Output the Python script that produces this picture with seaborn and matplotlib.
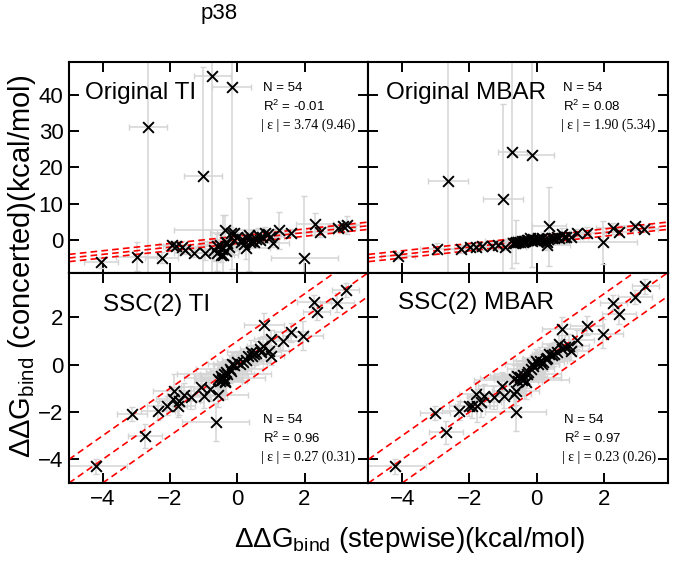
import numpy as np
import matplotlib
matplotlib.use("Agg")
import matplotlib.pyplot as plt
import seaborn as sns

# ------------------------------------------------------------------
# Datos (kcal/mol)
# ------------------------------------------------------------------
# Original TI
ti_orig_x = [-0.75, -0.17, -2.65, -1.01, -4.04, -2.99, -2.25, -1.93, -1.81, -1.64,
             -1.55, -1.29, -0.95, -0.69, -0.59, -0.49, -0.41, -0.34, -0.52, -0.37,
             -0.20, -0.10, -0.34, 0.10, 0.27, 0.34, 0.49, 0.61, 0.69, 0.81,
             0.98, 1.05, 1.23, 1.59, 1.99, 2.30, 2.45, 2.99, 3.14, 3.25,
             0.29, 0.39, -0.10, -0.45, -0.30, 0.00, 0.20, 0.55, -0.60, 0.15,
             0.75, -0.25, 0.45, 0.90]
ti_orig_y = [45.2, 42.1, 31.2, 17.6, -6.2, -4.6, -4.9, -1.4, -1.7, -1.9,
             -2.8, -3.5, -3.5, -2.8, -3.5, -4.2, -4.2, -3.2, -1.4, 2.8,
             2.0, 1.9, -0.5, -0.5, -2.3, 1.4, -0.5, 1.4, 0.0, 2.0,
             0.9, -0.9, 2.6, 2.0, -4.9, 4.4, 2.3, 3.2, 3.7, 4.0,
             0.5, -0.7, 0.0, -2.5, -1.0, 0.8, -1.2, 0.3, -1.8, 0.2,
             0.8, -2.0, -0.2, 1.5]
ti_orig_xerr = [0.55, 0.57, 0.56, 0.56, 0.5, 0.6, 0.5, 0.4, 0.4, 0.5,
                0.5, 0.6, 0.8, 0.5, 0.4, 0.5, 0.3, 0.4, 0.6, 1.5,
                0.6, 0.5, 0.8, 0.6, 0.7, 0.5, 0.6, 0.5, 0.5, 0.6,
                0.4, 0.5, 0.5, 0.6, 1.0, 0.56, 0.4, 0.5, 0.4, 0.4,
                0.5, 0.6, 0.7, 0.5, 0.6, 0.5, 0.4, 0.5, 0.6, 0.4,
                0.5, 0.6, 0.5, 0.4]
ti_orig_yerr = [55, 50, 42, 30, 1.5, 4, 1.5, 1.0, 1.2, 1.5,
                1.0, 1.2, 2, 3, 5, 2, 11, 2, 1.5, 4,
                1.5, 1, 1, 1, 3, 10, 1.5, 2, 1, 1.5,
                1, 1, 5, 1, 17, 3, 1.5, 1, 1.5, 2.5,
                1, 1.5, 1, 1.2, 1.0, 1.5, 1.2, 1.0, 1.5, 1.0,
                1.2, 1.5, 1.0, 1.2]

# Original MBAR
mbar_orig_x = [-0.72, -0.15, -2.64, -1.01, -4.13, -2.97, -2.26, -1.97, -1.80, -1.62,
               -1.33, -0.93, -0.71, -0.61, -0.49, -0.39, -0.29, -0.20, -0.05, 0.08,
               0.30, 0.30, 0.37, 0.44, 0.59, 0.74, 0.87, 1.03, 1.21, 1.49,
               1.97, 2.26, 2.46, 2.93, 3.20, -0.55, -0.45, -0.35, -0.25, -0.10,
               0.00, 0.10, 0.15, 0.22, 0.35, 0.50, 0.65, -0.65, -0.40, -0.15,
               0.05, 0.28, 0.80, -1.15]
mbar_orig_y = [24.3, 23.4, 16.2, 11.3, -4.4, -2.5, -2.5, -2.0, -1.9, -1.7,
               -1.6, -1.9, -0.9, -0.5, -0.7, -0.3, 0.0, 0.5, 0.0, 0.2,
               -0.7, -1.4, 3.7, 0.5, 0.9, 1.7, 0.7, 0.9, 1.9, 2.0,
               -0.7, 3.2, 2.3, 3.7, 3.1, -0.6, -0.4, -0.2, 0.1, 0.3,
               0.1, -0.1, 0.4, 0.1, 0.2, 0.4, 0.6, -0.8, -0.6, -0.3,
               0.5, -0.3, 0.9, -1.4]
mbar_orig_xerr = [0.44, 0.67, 0.6, 0.6, 0.5, 0.5, 0.5, 0.4, 0.4, 0.5,
                  0.5, 0.6, 0.5, 0.5, 0.6, 0.5, 0.6, 0.5, 0.6, 0.5,
                  0.6, 0.7, 0.5, 0.5, 0.5, 0.6, 0.5, 0.5, 0.4, 0.5,
                  1.0, 0.5, 0.4, 0.5, 0.4, 0.5, 0.5, 1.2, 0.6, 0.5,
                  0.5, 0.6, 0.5, 0.4, 0.5, 0.5, 0.5, 0.6, 0.5, 0.5,
                  0.4, 0.5, 0.5, 0.5]
mbar_orig_yerr = [32, 31, 33, 26, 1.0, 1.5, 1.0, 0.8, 0.8, 1.0,
                  1.0, 1.0, 1.0, 6, 1.5, 1.0, 1.0, 1.0, 1.0, 1.0,
                  1.5, 1.5, 11, 1.0, 1.0, 1.5, 1.0, 1.0, 1.0, 1.5,
                  6, 1.5, 1.0, 1.0, 1.0, 1.0, 1.0, 1.0, 1.0, 1.0,
                  1.0, 1.0, 1.0, 1.0, 1.0, 1.0, 1.0, 1.0, 1.0, 1.0,
                  1.0, 1.0, 1.0, 1.0]

# SSC(2) TI
ti_ssc_x = [3.23, 2.28, 2.36, 2.96, 1.96, 1.60, 1.36, 0.80, 1.00, 0.93,
            1.00, 0.78, 0.68, 0.51, 0.41, 0.33, 0.18, 0.08, -0.17, -0.22,
            -0.32, -0.39, -0.49, -0.44, -0.37, -0.57, -0.57, -0.82, -1.07, -1.00,
            -0.64, -1.37, -1.59, -1.72, -1.77, -1.89, -1.92, -2.09, -2.35, -3.13,
            -2.75, -4.19, -0.30, -0.45, -0.35, 0.00, 0.25, 0.55, -0.20, -0.50,
            0.45, 0.70, -0.40, -0.10]
ti_ssc_y = [3.17, 2.66, 2.21, 2.63, 1.23, 1.37, 1.01, 1.68, 1.08, 0.59,
            0.38, 0.80, 0.66, 0.45, 0.55, 0.38, 0.10, 0.03, 0.03, -0.18,
            -0.32, -0.54, -0.46, -0.65, -0.75, -0.60, -1.28, -1.03, -0.96, -1.31,
            -2.41, -1.38, -1.28, -1.52, -1.73, -1.10, -1.45, -1.73, -1.94, -2.08,
            -3.00, -4.30, -0.40, -0.55, -0.70, 0.10, 0.20, 0.50, -0.25, -0.70,
            0.35, 0.55, -0.40, 0.00]
ti_ssc_xerr = [0.4, 0.5, 0.4, 0.5, 0.6, 0.5, 0.5, 0.6, 0.5, 0.6,
               0.4, 0.5, 0.6, 0.5, 0.7, 0.5, 0.6, 0.8, 0.7, 1.0,
               0.6, 1.2, 0.8, 0.6, 0.5, 0.7, 0.9, 0.5, 0.6, 0.7,
               1.0, 0.6, 0.5, 0.6, 0.5, 0.6, 0.5, 0.6, 0.5, 0.45,
               0.5, 0.9, 0.8, 0.6, 0.5, 0.6, 0.7, 0.5, 0.6, 0.8,
               0.5, 0.6, 1.4, 0.6]
ti_ssc_yerr = [0.3, 0.3, 0.3, 0.4, 0.6, 0.4, 0.4, 0.5, 0.4, 0.5,
               0.4, 0.4, 0.5, 0.4, 0.5, 0.4, 0.5, 0.4, 0.5, 0.6,
               0.5, 0.6, 0.5, 0.6, 0.7, 0.6, 0.5, 0.5, 0.6, 0.5,
               0.8, 0.5, 0.5, 0.6, 0.5, 0.7, 0.5, 0.4, 0.4, 0.3,
               0.5, 0.3, 0.5, 0.6, 0.5, 0.5, 0.4, 0.5, 0.5, 0.6,
               0.5, 0.4, 0.5, 0.5]

# SSC(2) MBAR
mbar_ssc_x = [3.23, 2.93, 2.27, 2.45, 1.96, 1.49, 1.21, 0.76, 1.01, 0.96,
              0.76, 0.67, 0.52, 0.37, 0.27, 0.15, -0.03, -0.15, -0.18, -0.28,
              -0.38, -0.48, -0.58, -0.68, -0.33, -0.63, -0.63, -0.68, -0.97, -1.04,
              -1.27, -1.57, -1.67, -1.80, -1.77, -1.92, -2.00, -2.31, -3.03, -2.69,
              -4.20, -0.50, -0.40, -0.25, 0.05, 0.30, 0.45, -0.55, 0.10, -0.10,
              0.60, -0.45, 0.20, 0.85]
mbar_ssc_y = [3.31, 2.87, 2.63, 2.14, 1.32, 1.65, 1.06, 1.51, 0.59, 0.80,
              0.66, 0.87, 0.45, 0.45, 0.24, 0.03, 0.17, 0.03, -0.18, -0.39,
              -0.61, -0.54, -0.46, -0.61, -0.75, -1.10, -2.01, -1.24, -1.31, -0.89,
              -1.38, -1.31, -1.59, -1.24, -1.73, -1.76, -1.76, -1.94, -2.04, -2.86,
              -4.30, -0.50, -0.45, -0.30, 0.05, 0.30, 0.40, -0.70, 0.15, -0.05,
              0.55, -0.65, 0.12, 0.75]
mbar_ssc_xerr = [0.4, 0.5, 0.4, 0.5, 0.6, 0.5, 0.5, 0.6, 0.5, 0.6,
                 0.4, 0.5, 0.6, 0.5, 0.7, 0.5, 0.6, 0.8, 0.7, 1.0,
                 0.6, 1.2, 0.8, 0.6, 0.5, 0.7, 0.9, 0.5, 0.6, 0.7,
                 0.6, 0.5, 0.6, 0.5, 0.6, 0.5, 0.6, 0.5, 0.45, 0.5,
                 0.9, 0.8, 0.6, 0.5, 0.6, 0.7, 0.5, 0.6, 0.8, 0.5,
                 0.6, 1.4, 0.6, 0.5]
mbar_ssc_yerr = [0.3, 0.3, 0.3, 0.4, 0.6, 0.4, 0.4, 0.5, 0.4, 0.5,
                 0.4, 0.4, 0.5, 0.4, 0.5, 0.4, 0.5, 0.4, 0.5, 0.6,
                 0.5, 0.6, 0.5, 0.6, 0.7, 0.6, 0.8, 0.5, 0.5, 0.6,
                 0.5, 0.5, 0.6, 0.5, 0.7, 0.5, 0.4, 0.4, 0.3, 0.5,
                 0.3, 0.5, 0.6, 0.5, 0.5, 0.4, 0.5, 0.5, 0.6, 0.5,
                 0.4, 0.5, 0.5, 0.5]

panel_names = ["Original TI", "Original MBAR", "SSC(2) TI", "SSC(2) MBAR"]
stat_n = [54, 54, 54, 54]
stat_r2 = ["-0.01", "0.08", "0.96", "0.97"]
stat_err = ["3.74 (9.46)", "1.90 (5.34)", "0.27 (0.31)", "0.23 (0.26)"]

top_yticks = [0, 10, 20, 30, 40]
bottom_yticks = [-4, -2, 0, 2]
xticks = [-4, -2, 0, 2]
line_offsets = [-1, 0, 1]

# ------------------------------------------------------------------
# Figura
# ------------------------------------------------------------------
sns.set_theme(style="ticks")
plt.rcParams["font.family"] = ["Liberation Sans", "DejaVu Sans"]
plt.rcParams["mathtext.fontset"] = "custom"
plt.rcParams["mathtext.rm"] = "Liberation Sans"
plt.rcParams["mathtext.it"] = "Liberation Sans:italic"
plt.rcParams["axes.linewidth"] = 1.5
for clave in ["text.color", "axes.labelcolor", "axes.edgecolor",
              "xtick.color", "ytick.color"]:
    plt.rcParams[clave] = "black"

fig, axes = plt.subplots(2, 2, figsize=(6.74, 5.64), dpi=100)
fig.subplots_adjust(left=0.1024, right=0.991, top=0.89, bottom=0.1436,
                    wspace=0, hspace=0)

datos = [
    (ti_orig_x, ti_orig_y, ti_orig_xerr, ti_orig_yerr),
    (mbar_orig_x, mbar_orig_y, mbar_orig_xerr, mbar_orig_yerr),
    (ti_ssc_x, ti_ssc_y, ti_ssc_xerr, ti_ssc_yerr),
    (mbar_ssc_x, mbar_ssc_y, mbar_ssc_xerr, mbar_ssc_yerr),
]

label_pos = [(0.053, 0.853), (0.060, 0.853), (0.113, 0.848), (0.097, 0.857)]
stats_pos = [(0.647, [0.877, 0.791, 0.701]), (0.649, [0.877, 0.791, 0.701]),
             (0.647, [0.300, 0.214, 0.124]), (0.652, [0.300, 0.214, 0.124])]

for i, ax in enumerate(axes.flat):
    x, y, xe, ye = datos[i]
    ax.errorbar(x, y, xerr=xe, yerr=ye, fmt="none", ecolor="#d4d4d4",
                elinewidth=1.1, capsize=2.5, capthick=1.0, zorder=1)
    for off in line_offsets:
        ax.axline((0, off), slope=1, color="red", lw=1.2,
                  ls=(0, (4, 2.5)), zorder=2)
    sns.scatterplot(x=x, y=y, marker="x", color="black", s=60,
                    linewidth=1.4, ax=ax, zorder=3)

    ax.set_xlim(-5, 3.9)
    if i < 2:
        ax.set_ylim(-9, 49)
        ax.set_yticks(top_yticks)
    else:
        ax.set_ylim(-5, 3.9)
        ax.set_yticks(bottom_yticks)
    ax.set_xticks(xticks)
    ax.tick_params(direction="in", length=7, width=1.4, top=True, right=True,
                   labelsize=16, pad=4)
    if i < 2:
        ax.tick_params(labelbottom=False)
    if i % 2 == 1:
        ax.tick_params(labelleft=False)
    ax.set_xlabel("")
    ax.set_ylabel("")

    lx, ly = label_pos[i]
    ax.text(lx, ly, panel_names[i], transform=ax.transAxes, fontsize=17.5,
            ha="left", va="center")
    sx, sy = stats_pos[i]
    ax.text(sx, sy[0], f"N = {stat_n[i]}", transform=ax.transAxes,
            fontsize=9.5, ha="left", va="center")
    ax.text(sx, sy[1], f"R$^2$ = {stat_r2[i]}", transform=ax.transAxes,
            fontsize=9.5, ha="left", va="center")
    ax.text(sx - 0.005, sy[2], f"| ε | = {stat_err[i]}", transform=ax.transAxes,
            fontsize=10, ha="left", va="center",
            family=["Liberation Serif", "DejaVu Serif"])

fig.text(219 / 674, 1 - 14 / 564, "p38", ha="center", va="center", fontsize=16)
fig.text(410 / 674, 1 - 540 / 564, r"ΔΔG$_{\mathrm{bind}}$ (stepwise)(kcal/mol)",
         ha="center", va="center", fontsize=20)
fig.text(22 / 674, 1 - 266 / 564, r"ΔΔG$_{\mathrm{bind}}$ (concerted)(kcal/mol)",
         ha="center", va="center", fontsize=21, rotation=90)

plt.savefig("out.png", dpi=100)
